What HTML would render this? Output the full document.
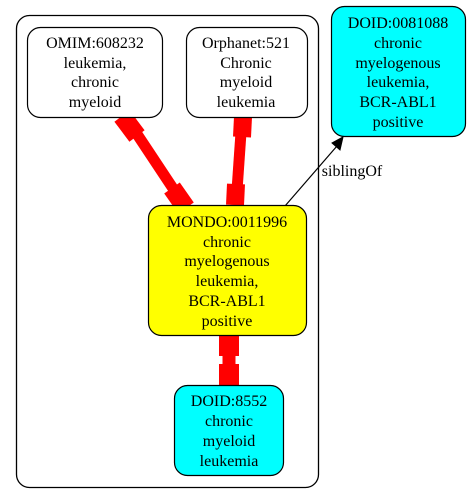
<!DOCTYPE html>
<html><head><meta charset="utf-8"><style>
html,body{margin:0;padding:0;background:#fff;}
svg{display:block;}
svg text{font-family:"Liberation Serif","Times New Roman",serif !important;font-size:16px;text-anchor:middle;fill:#000;}
</style></head><body>
<svg width="471" height="503" viewBox="0 0 471 503" font-family="Liberation Serif, serif">
<rect x="16.5" y="15.5" width="302" height="472" rx="13" fill="none" stroke="#000" stroke-width="1.3"/>

<g stroke="#f00" fill="none">
<line x1="127" y1="119" x2="184" y2="205" stroke-width="11"/>
<line x1="122" y1="116" x2="137" y2="136" stroke-width="19"/>
<line x1="172" y1="188" x2="186" y2="208" stroke-width="19"/>
</g>
<g stroke="#f00" fill="none">
<line x1="242" y1="118" x2="236" y2="205" stroke-width="11"/>
<line x1="243" y1="117" x2="242" y2="137" stroke-width="18"/>
<line x1="236" y1="184" x2="235" y2="205" stroke-width="18"/>
</g>
<g stroke="#f00" fill="none">
<line x1="229" y1="335" x2="229" y2="385" stroke-width="13"/>
<line x1="229" y1="335" x2="229" y2="356" stroke-width="20"/>
<line x1="229" y1="364" x2="229" y2="385" stroke-width="20"/>
</g>
<g>
<line x1="285" y1="206" x2="337" y2="146" stroke="#000" stroke-width="1.2"/>
<polygon points="343,137 340,150 332,143" fill="#000" stroke="#000"/>
<text x="352" y="176">siblingOf</text>
</g>

<g>
<rect x="27.5" y="27.5" width="135" height="90" rx="13" fill="#fff" stroke="#000" stroke-width="1.2"/>
<text x="95" y="48">OMIM:608232</text><text x="95" y="68">leukemia,</text><text x="95" y="87">chronic</text><text x="95" y="107">myeloid</text>
</g>
<g>
<rect x="186.5" y="27.5" width="121" height="90" rx="13" fill="#fff" stroke="#000" stroke-width="1.2"/>
<text x="246" y="48">Orphanet:521</text><text x="246" y="68">Chronic</text><text x="246" y="87">myeloid</text><text x="246" y="107">leukemia</text>
</g>
<g>
<rect x="331.5" y="6.5" width="134" height="130" rx="13" fill="#0ff" stroke="#000" stroke-width="1.2"/>
<text x="398" y="28">DOID:0081088</text><text x="398" y="48">chronic</text><text x="398" y="68">myelogenous</text><text x="398" y="87">leukemia,</text><text x="398" y="107">BCR-ABL1</text><text x="398" y="127">positive</text>
</g>
<g>
<rect x="148.5" y="205.5" width="158" height="130" rx="13" fill="#ff0" stroke="#000" stroke-width="1.2"/>
<text x="227" y="227">MONDO:0011996</text><text x="227" y="247">chronic</text><text x="227" y="266">myelogenous</text><text x="227" y="286">leukemia,</text><text x="227" y="306">BCR-ABL1</text><text x="227" y="326">positive</text>
</g>
<g>
<rect x="174.5" y="385.5" width="109" height="90" rx="13" fill="#0ff" stroke="#000" stroke-width="1.2"/>
<text x="229" y="406">DOID:8552</text><text x="229" y="426">chronic</text><text x="229" y="446">myeloid</text><text x="229" y="466">leukemia</text>
</g>
</svg>
</body></html>
